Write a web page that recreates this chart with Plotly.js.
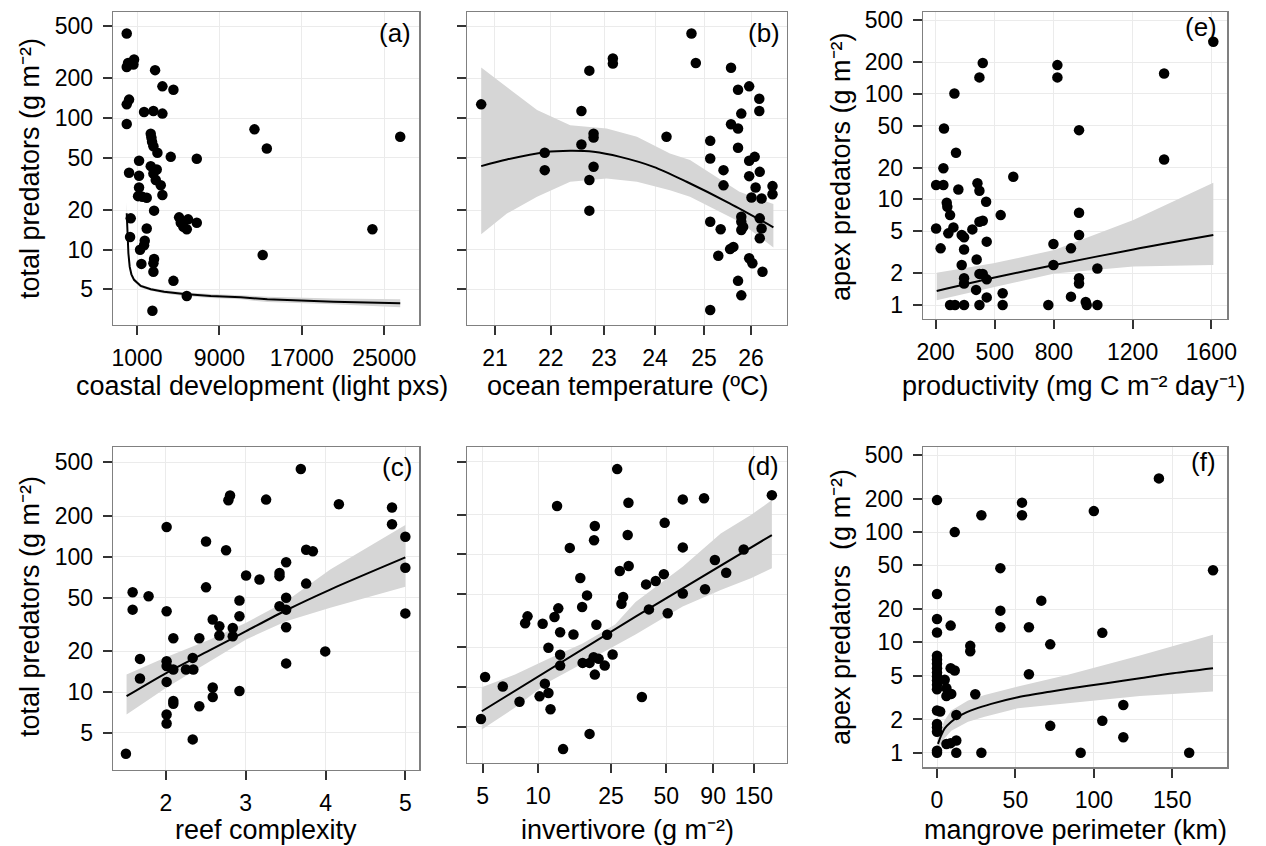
<!DOCTYPE html>
<html>
<head>
<meta charset="utf-8">
<script src="https://cdn.plot.ly/plotly-3.0.1.min.js"></script>
<style>html,body{margin:0;padding:0;background:#fff;}#chart{width:1266px;height:846px;}</style>
</head>
<body>
<div id="chart"></div>
<script>
// ---------------- DATA ----------------
// (a) coastal development vs total predators
const aX = [0,0,129,453,712,647,2752,3464,4533,226,0,1683,2590,3464,0,2331,2396,2460,2590,2979,4274,6800,1197,226,1197,2331,2914,2590,2817,3303,3464,1197,1100,1942,1521,2655,388,323,5084,5246,5958,5829,6800,5505,1942,1748,1683,1294,2655,2590,1424,2590,4533,5829,2493,12400,13600,26550,23850,13200];
const aY = [438,244,262,259,278,255,231,174,164,138,127,111,113,108,90,76,71,65.9,61.1,54.5,50.7,49.0,47.3,38.4,36.4,43.1,40.6,37.9,33.8,30.9,26.0,29.7,25.5,24.8,25.2,19.8,17.3,12.5,17.6,16.0,17.0,14.3,16.0,14.9,14.5,11.7,10.8,10.0,8.5,7.9,7.8,6.8,5.8,4.45,3.44,82,58.6,72,14.3,9.1];
const aFitX = [0,63,161,290,452,711,1359,2331,3627,5570,8161,11076,13649,20100,26552];
const aFitY = [18.9,13.3,9.4,7.4,6.5,5.9,5.3,5.0,4.8,4.6,4.45,4.35,4.2,4.03,3.92];
const aBandX = [0,63,161,290,452,711,1359,2331,3627,5570,8161,11076,13649,20100,26552];
const aHi = [23.1,15.0,10.2,7.8,6.8,6.1,5.45,5.15,4.95,4.75,4.6,4.5,4.4,4.25,4.2];
const aLo = [15.5,11.8,8.6,7.0,6.2,5.7,5.15,4.88,4.65,4.45,4.3,4.2,4.0,3.85,3.65];

// (b) ocean temperature vs total predators
const bX = [20.76,21.89,21.89,22.57,22.57,22.72,22.72,22.72,22.80,22.80,22.80,23.17,23.17,24.23,
  24.74,24.83,25.57,25.72,25.96,26.18,26.18,25.79,25.57,25.72,25.13,25.72,25.13,26.08,25.96,25.41,26.19,25.96,25.41,26.10,26.47,26.47,26.01,26.23,25.13,25.35,25.79,25.79,25.83,25.79,26.19,26.23,26.19,25.62,25.55,25.30,25.96,26.03,26.25,25.72,25.79,25.13];
const bY = [127,54.5,40.2,113,63,33.8,19.8,229,76,71,42.6,283,259,72,
  438,262,241,164,174,140,113,108,89.8,83.2,67.1,59.4,49.3,50.7,47.3,40.2,39.0,36.2,30.8,29.7,30.4,26.4,24.9,24.5,16.3,14.3,17.8,16.3,14.9,14.1,17.3,14.5,12.2,10.5,10.1,9.0,8.6,7.9,6.8,5.8,4.5,3.48];
const bFitX = [20.76,21.21,21.90,22.36,22.80,23.31,23.97,24.64,25.54,26.49];
const bFitY = [43.1,48.4,55.0,56.3,55.4,50.7,42.6,32.8,22.5,14.8];
const bBandX = [20.76,21.21,21.75,22.36,23.05,23.64,24.30,24.71,25.75,26.49];
const bHi = [242,172,115,88.2,83.2,72,53.8,47.9,27.6,22.2];
const bLo = [13.1,18.8,25.2,32.8,34.7,32.8,28.3,25.2,16.3,10.4];

// (e) productivity vs apex predators
const eX = [202,202,239,225,239,242,256,259,273,264,273,298,344,295,303,315,290,332,344,344,332,344,344,386,412,422,408,405,422,422,439,422,439,439,422,456,459,459,459,530,540,540,594,772,798,798,818,818,887,887,928,928,928,928,928,962,967,1021,1021,1360,1360,1610];
const eY = [5.3,13.7,13.7,3.44,19.7,47,9.3,8.5,7.1,4.77,1,1,1,100.7,27.7,12.4,5.43,4.6,4.37,3.36,2.39,1.79,1.6,5.2,14.2,12.1,2.70,1.39,1,6.15,6.28,1.97,1.97,196,143,9.5,3.98,1.75,1.18,7.1,1.29,1,16.4,1,3.78,2.39,187,143,1.2,3.44,7.48,4.6,1.79,1.6,45.3,1.07,1,2.22,1,156,23.9,311];
const eFitX = [205,493,803,1204,1610];
const eFitY = [1.357,1.81,2.39,3.36,4.6];
const eBandX = [205,493,803,1204,1610];
const eHi = [2.02,2.48,3.32,6.37,14.4];
const eLo = [1.11,1.47,1.99,2.31,2.39];

// (c) reef complexity vs total predators
const cX = [1.498,1.582,1.582,1.782,1.674,1.674,2.008,2.008,2.008,2.008,2.008,2.008,2.008,2.092,2.092,2.092,2.092,2.251,2.335,2.343,2.335,2.418,2.418,2.502,2.502,2.586,2.669,2.669,2.837,2.837,2.586,2.586,2.753,2.782,2.803,2.921,2.921,2.921,3.004,3.172,3.255,3.423,3.423,3.423,3.506,3.506,3.506,3.506,3.506,3.690,3.757,3.841,3.757,3.996,4.167,4.833,4.833,5.0,5.0,5.0];
const cY = [3.50,54.7,40.7,51.1,17.6,12.6,166,39.6,16.9,15.6,11.9,6.83,5.86,25.0,14.7,8.6,8.2,14.7,17.9,14.7,4.47,25.0,7.87,130,59.5,34.4,30.7,26.2,29.8,25.9,10.8,9.2,112,262,284,47.5,36.4,10.2,72.8,68,265,76,72,43.1,91.2,49.8,40.7,30.2,16.3,446,113,110,63.4,20.0,245,232,174,141,83,38.2];
const cFitX = [1.506,2.008,2.552,3.004,3.506,4.059,5.0];
const cFitY = [9.33,13.9,20.4,28.2,40.3,57.3,99];
const cBandX = [1.506,2.008,2.552,3.004,3.506,4.059,5.0];
const cHi = [13.5,18.2,24.5,32.5,47,80.5,172];
const cLo = [6.84,10.8,16.9,24.5,33.4,42.0,60.1];

// (d) invertivore vs total predators
const dX = [4.89,5.15,6.43,7.93,8.51,8.77,10.2,10.6,10.9,11.4,11.4,11.7,12.3,12.9,13.2,13.2,13.2,13.7,14.9,15.6,17.0,17.4,17.5,18.5,19.1,19.1,20.1,20.4,21.4,23.1,20.2,20.8,23.8,25.5,27.9,31.2,30.8,28.5,29.1,
  12.7,20.4,27.0,31.1,38.8,40.2,36.8,43.8,48.5,49.0,50.9,61.5,61.5,61.5,80.3,81.3,92,106,132,188];
const dY = [5.74,11.9,10.1,7.73,30.3,34.1,8.5,30.0,10.6,9.0,19.8,6.8,33.7,39.2,25.9,17.5,14.5,3.4,112,24.9,66.4,40.1,15.2,49.1,15.2,4.43,16.8,12.4,16.3,14.5,128,29.5,24.8,17.6,75,81.8,140,42.5,47.7,
  232,164,440,245,59.4,38.5,8.4,63,71,173,36,260,113,50.8,265,54.6,90.8,72.8,109,280];
const dFitX = [4.94,34.0,188];
const dFitY = [6.56,34.0,140];
const dBandX = [4.94,7.5,11.4,17.4,26.3,34.0,61.4,99,144.5,188];
const dHi = [9.96,12.4,16.3,21.2,29.6,43.7,80.9,144,198,257];
const dLo = [4.78,7.0,10.9,15.0,20.6,24.9,40.4,54,66,78.5];

// (f) mangrove perimeter vs apex predators
const fX = [0,54.2,54.2,28.3,11.3,40.4,0,66.5,40.4,0,0,8.7,40.4,58.6,72.2,21.2,21.2,0,0,0,0,0,0,0,0,0,8.7,11.3,4.9,6.0,6.0,9.1,58.6,24.4,0,2,12.3,0,0,0,72.2,6.0,8.7,12.3,0,0,12.3,28.3,91.6,100,105.4,105.4,118.8,118.8,141.5,160.8,176];
const fY = [195,185,142,142,100,47.1,27.5,23.9,19.4,16.3,12.3,14.2,13.7,13.7,9.6,9.3,8.3,7.57,6.96,6.40,5.84,5.33,4.91,4.51,4.12,3.76,5.84,5.56,4.58,3.85,3.27,3.41,5.15,3.39,2.41,2.36,2.2,1.82,1.70,1.55,1.75,1.20,1.22,1.29,1.04,1.0,1.0,1.0,1,155,12.2,1.95,2.71,1.38,307,1,45.1];
const fFitX = [0.6,2.8,4.9,9.1,15.5,24.0,34.6,51.6,72.9,83.5,108,129.4,150.6,176];
const fFitY = [1.2,1.45,1.66,1.91,2.2,2.48,2.77,3.18,3.59,3.79,4.27,4.74,5.26,5.84];
const fBandX = [0.6,4.9,9.1,19.8,30.4,51.6,83.5,129.4,176];
const fHi = [1.35,1.98,2.41,2.97,3.34,3.98,5.08,7.6,11.7];
const fLo = [1.09,1.35,1.58,1.91,2.12,2.53,2.81,3.27,3.59];

// tick labels
const predTicks = [5,10,20,50,100,200,500];
const apexTicks = [1,2,5,10,20,50,100,200,500];
const aTicks = [1000,9000,17000,25000];
const bTicks = [21,22,23,24,25,26];
const eTicks = [200,500,800,1200,1600];
const cTicks = [2,3,4,5];
const dTicks = [5,10,25,50,90,150];
const fTicks = [0,50,100,150];

// ---------------- LAYOUT ----------------
const W = 1266, H = 846;
const FONT = '"Liberation Sans", Arial, Helvetica, sans-serif';
// pixel frames of each panel [left, right, top, bottom]
const frames = {
  a: [113, 419.3, 12.3, 325],
  b: [467.3, 786.7, 12.3, 325],
  e: [923, 1227.3, 12.3, 319],
  c: [113, 419.3, 447.3, 770],
  d: [467.3, 786.7, 447.3, 762.7],
  f: [923, 1227.3, 447.3, 767.3]
};
function xd(k){ return [frames[k][0]/W, frames[k][1]/W]; }
function yd(k){ return [1 - frames[k][3]/H, 1 - frames[k][2]/H]; }

function ax(extra){
  return Object.assign({
    showline:true, mirror:true, linecolor:'#808080', linewidth:1.3,
    ticks:'outside', ticklen:9, tickwidth:2, tickcolor:'#333333',
    showgrid:true, gridcolor:'#ebebeb', gridwidth:1, zeroline:false,
    tickfont:{family:FONT, size:23, color:'#000'},
    tickmode:'array', fixedrange:true, automargin:false, ticklabelstandoff:3
  }, extra);
}
const lab = v => v.map(String);

const layout = {
  width:W, height:H, margin:{l:0,r:0,t:0,b:0},
  paper_bgcolor:'#fff', plot_bgcolor:'#fff', showlegend:false,
  font:{family:FONT, color:'#000'},
  xaxis:  ax({domain:xd('a'), anchor:'y',  type:'linear', range:[-1333,28402], tickvals:aTicks, ticktext:lab(aTicks)}),
  yaxis:  ax({domain:yd('a'), anchor:'x',  type:'log', range:[0.428,2.803], tickvals:predTicks, ticktext:lab(predTicks), ticklabelstandoff:5}),
  xaxis2: ax({domain:xd('b'), anchor:'y2', type:'log', range:[1.31219,1.4279], tickvals:bTicks, ticktext:lab(bTicks)}),
  yaxis2: ax({domain:yd('b'), anchor:'x2', type:'log', range:[0.428,2.803], tickvals:predTicks, showticklabels:false}),
  xaxis3: ax({domain:xd('e'), anchor:'y3', type:'linear', range:[135.4,1681], tickvals:eTicks, ticktext:lab(eTicks)}),
  yaxis3: ax({domain:yd('e'), anchor:'x3', type:'log', range:[-0.1326,2.772], tickvals:apexTicks, ticktext:lab(apexTicks), ticklabelstandoff:5}),
  xaxis4: ax({domain:xd('c'), anchor:'y4', type:'linear', range:[1.336,5.175], tickvals:cTicks, ticktext:lab(cTicks)}),
  yaxis4: ax({domain:yd('c'), anchor:'x4', type:'log', range:[0.424,2.810], tickvals:predTicks, ticktext:lab(predTicks), ticklabelstandoff:5}),
  xaxis5: ax({domain:xd('d'), anchor:'y5', type:'log', range:[0.6148,2.355], tickvals:dTicks, ticktext:lab(dTicks)}),
  yaxis5: ax({domain:yd('d'), anchor:'x5', type:'log', range:[0.429,2.808], tickvals:predTicks, showticklabels:false}),
  xaxis6: ax({domain:xd('f'), anchor:'y6', type:'linear', range:[-8.93,185.1], tickvals:fTicks, ticktext:lab(fTicks)}),
  yaxis6: ax({domain:yd('f'), anchor:'x6', type:'log', range:[-0.1327,2.769], tickvals:apexTicks, ticktext:lab(apexTicks), ticklabelstandoff:5}),
  annotations: []
};

// text annotations: axis titles and panel letters (pixel positions)
function ann(text, px, py, opts){
  return Object.assign({text:text, xref:'paper', yref:'paper', x:px/W, y:1-py/H,
    showarrow:false, xanchor:'center', yanchor:'middle', borderpad:0,
    font:{family:FONT, size:27, color:'#000'}}, opts||{});
}
const TITLE_TOP = 386, TITLE_BOT = 830;
const LETTER = {family:FONT, size:26, color:'#000'};
layout.annotations.push(
  ann('coastal development (light pxs)', 262, TITLE_TOP),
  ann('ocean temperature (ºC)', 627, TITLE_TOP),
  ann('productivity (mg C m\u207B\u00B2 day\u207B\u00B9)', 1074, TITLE_TOP),
  ann('reef complexity', 266, TITLE_BOT),
  ann('invertivore (g m\u207B\u00B2)', 627, TITLE_BOT),
  ann('mangrove perimeter (km)', 1075, TITLE_BOT),
  ann('total predators (g m\u207B\u00B2)', 30, 169, {textangle:-90}),
  ann('total predators (g m\u207B\u00B2)', 30, 607, {textangle:-90}),
  ann('apex predators (g m\u207B\u00B2)', 841, 167, {textangle:-90}),
  ann('apex predators \u00a0(g m\u207B\u00B2)', 841, 607, {textangle:-90}),
  ann('(a)', 412, 33, {xanchor:'right', font:LETTER}),
  ann('(b)', 781, 33, {xanchor:'right', font:LETTER}),
  ann('(e)', 1218, 27, {xanchor:'right', font:LETTER}),
  ann('(c)', 413, 467, {xanchor:'right', font:LETTER}),
  ann('(d)', 780, 466, {xanchor:'right', font:LETTER}),
  ann('(f)', 1217, 462, {xanchor:'right', font:LETTER})
);

// ---------------- TRACES ----------------
function panel(xa, ya, px, py, fx, fy, bx, hi, lo, shape){
  const polyX = bx.concat(bx.slice().reverse());
  const polyY = hi.concat(lo.slice().reverse());
  return [
    {type:'scatter', mode:'lines', x:polyX, y:polyY, fill:'toself', fillcolor:'#d6d6d6',
     line:{width:0, color:'rgba(0,0,0,0)'}, xaxis:xa, yaxis:ya, hoverinfo:'skip'},
    {type:'scatter', mode:'markers', x:px, y:py, xaxis:xa, yaxis:ya,
     marker:{size:10.5, color:'#000', line:{width:0}}},
    {type:'scatter', mode:'lines', x:fx, y:fy, xaxis:xa, yaxis:ya,
     line:{color:'#000', width:2, shape:shape||'linear', smoothing:0.8}}
  ];
}

const data = [].concat(
  panel('x','y',  aX,aY,aFitX,aFitY,aBandX,aHi,aLo,'linear'),
  panel('x2','y2',bX,bY,bFitX,bFitY,bBandX,bHi,bLo,'spline'),
  panel('x3','y3',eX,eY,eFitX,eFitY,eBandX,eHi,eLo,'spline'),
  panel('x4','y4',cX,cY,cFitX,cFitY,cBandX,cHi,cLo,'spline'),
  panel('x5','y5',dX,dY,dFitX,dFitY,dBandX,dHi,dLo,'linear'),
  panel('x6','y6',fX,fY,fFitX,fFitY,fBandX,fHi,fLo,'spline')
);

Plotly.newPlot('chart', data, layout, {staticPlot:true, displayModeBar:false});
</script>
</body>
</html>
